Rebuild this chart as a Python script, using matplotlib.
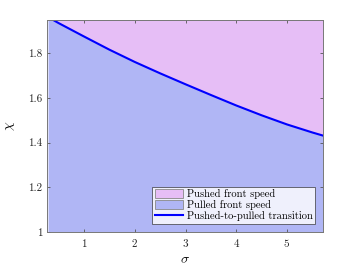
import matplotlib
matplotlib.use("Agg")
import matplotlib.pyplot as plt
import numpy as np

plt.rcParams['font.family'] = 'serif'
plt.rcParams['font.serif'] = ['cmr10', 'DejaVu Serif']
plt.rcParams['mathtext.fontset'] = 'cm'
plt.rcParams['axes.formatter.use_mathtext'] = True

# transition curve
sigma = [0.3, 0.5, 1.0, 1.5, 2.0, 2.5, 3.0, 3.5, 4.0, 4.5, 5.0, 5.5, 5.71]
chi = [1.962, 1.936, 1.876, 1.817, 1.762, 1.711, 1.662, 1.614, 1.567, 1.523, 1.482, 1.446, 1.432]

xmin, xmax = 0.27, 5.71
ymin, ymax = 1.0, 1.95

pink = '#E6BEF6'
blue = '#B0B6F5'

fig = plt.figure(figsize=(3.57, 2.68), dpi=100)
ax = fig.add_axes([47/357, 1 - 232/268, (323-47)/357, (232-20)/268])

ax.fill_between(sigma, chi, ymax + 1, color=pink, linewidth=0, label='Pushed front speed')
ax.fill_between(sigma, ymin - 1, chi, color=blue, linewidth=0, label='Pulled front speed')
ax.plot(sigma, chi, color='#0000FF', linewidth=1.5, label='Pushed-to-pulled transition')

ax.set_xlim(xmin, xmax)
ax.set_ylim(ymin, ymax)
ax.set_xticks([1, 2, 3, 4, 5])
ax.set_yticks([1, 1.2, 1.4, 1.6, 1.8])
ax.set_yticklabels(['1', '1.2', '1.4', '1.6', '1.8'])
ax.tick_params(direction='in', length=2.5, width=0.6, labelsize=8, colors='#555555',
               top=True, right=True, labelcolor='#222222')
for s in ax.spines.values():
    s.set_color('#777777')
    s.set_linewidth(0.7)

ax.set_xlabel(r'$\sigma$', fontsize=10, labelpad=4)
ax.set_ylabel(r'$\chi$', fontsize=10, labelpad=8)

leg = ax.legend(loc='lower right', fontsize=7.6, frameon=True, fancybox=False,
                handlelength=2.7, handleheight=0.9, borderpad=0.25, labelspacing=0.1,
                handletextpad=0.3, borderaxespad=0.75)
leg.get_frame().set_edgecolor('#333333')
leg.get_frame().set_linewidth(0.6)
for h in leg.legend_handles[:2]:
    h.set_edgecolor('#888888')
    h.set_linewidth(0.6)

fig.savefig('out.png', dpi=100)
